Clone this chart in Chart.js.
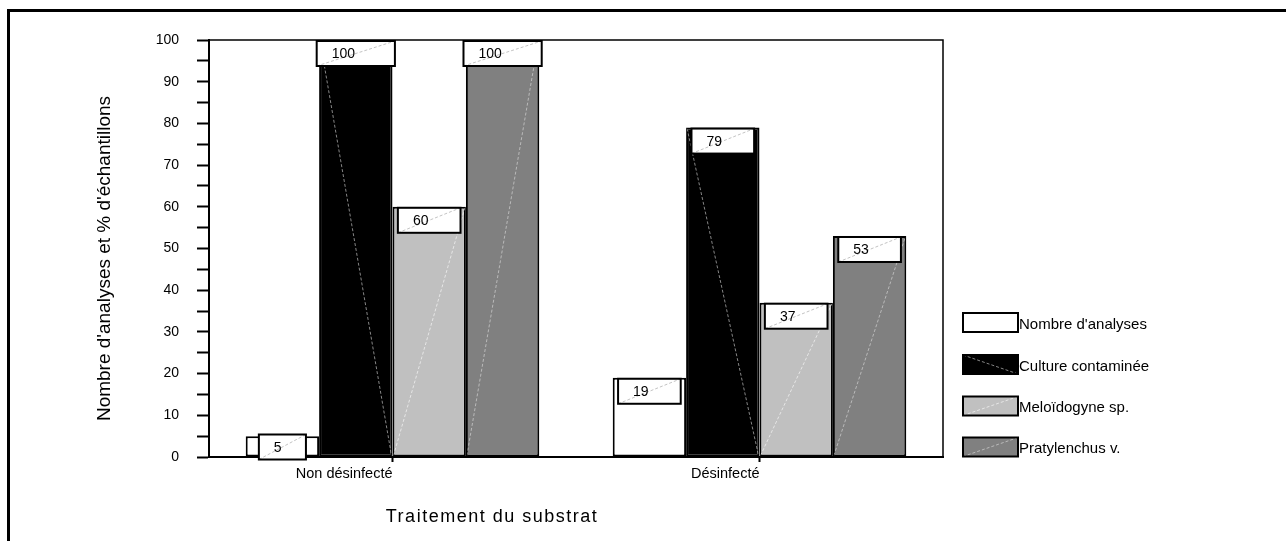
<!DOCTYPE html>
<html>
<head>
<meta charset="utf-8">
<script src="https://cdn.jsdelivr.net/npm/chart.js@4.4.1/dist/chart.umd.min.js"></script>
<style>
  html, body { margin: 0; padding: 0; background: #fff; overflow: hidden; }
  #wrap { position: relative; width: 1286px; height: 541px; }
  #frame { position: absolute; left: 7px; top: 9px; width: 1300px; height: 600px;
           border-top: 3px solid #000; border-left: 3px solid #000; pointer-events: none; }
  canvas { position: absolute; left: 0; top: 0; }
</style>
</head>
<body>
<div id="wrap">
  <canvas id="c" width="1286" height="541"></canvas>
  <div id="frame"></div>
</div>
<script>
// ---- data ----
const categories = ['Non désinfecté', 'Désinfecté'];
const seriesNames = ["Nombre d'analyses", 'Culture contaminée', 'Meloïdogyne sp.', 'Pratylenchus v.'];
const nombreAnalyses = [5, 19];
const cultureContaminee = [100, 79];
const meloidogyne = [60, 37];
const pratylenchus = [100, 53];
const yMin = 0, yMax = 100, yMajorStep = 10, yMinorStep = 5;
const yTitle = "Nombre d'analyses et % d'échantillons";
const xTitle = 'Traitement du substrat';

// ---- styles ----
const fills = ['#ffffff', '#000000', '#c0c0c0', '#808080'];
const diagStyles = [null, {dir: 'down', color: 'rgba(190,190,190,0.7)'},
                    {dir: 'up', color: 'rgba(255,255,255,0.6)'},
                    {dir: 'up', color: 'rgba(255,255,255,0.45)'}];
const FONT = '"Liberation Sans", Arial, sans-serif';

const seriesValues = [nombreAnalyses, cultureContaminee, meloidogyne, pratylenchus];

function drawDiag(ctx, l, t, r, b, style) {
  if (!style) return;
  ctx.save();
  ctx.beginPath();
  ctx.rect(l, t, r - l, b - t);
  ctx.clip();
  ctx.strokeStyle = style.color;
  ctx.lineWidth = 1;
  ctx.setLineDash([3, 2]);
  ctx.beginPath();
  if (style.dir === 'down') { ctx.moveTo(l, t); ctx.lineTo(r, b); }
  else { ctx.moveTo(l, b); ctx.lineTo(r, t); }
  ctx.stroke();
  ctx.restore();
}

const customPlugin = {
  id: 'custom',
  afterDatasetsDraw(chart) {
    const ctx = chart.ctx;
    // diagonals on bars
    chart.data.datasets.forEach((ds, di) => {
      const meta = chart.getDatasetMeta(di);
      meta.data.forEach((bar) => {
        const l = bar.x - bar.width / 2, r = bar.x + bar.width / 2;
        drawDiag(ctx, l + 1, bar.y + 1, r - 1, bar.base - 1, diagStyles[di]);
      });
    });
    // value label boxes
    ctx.save();
    ctx.font = '14px ' + FONT;
    chart.data.datasets.forEach((ds, di) => {
      const meta = chart.getDatasetMeta(di);
      meta.data.forEach((bar, i) => {
        const txt = String(ds.data[i]);
        const tw = ctx.measureText(txt).width;
        const w = 2 * tw + 31.5;
        const h = 25;
        const left = bar.x - w / 2;
        let top = bar.y + 1;
        if (top + h > bar.base + 3) top = bar.base + 3 - h;
        ctx.fillStyle = '#fff';
        ctx.fillRect(left, top, w, h);
        drawDiag(ctx, left, top, left + w, top + h, {dir: 'up', color: 'rgba(170,170,170,0.7)'});
        ctx.strokeStyle = '#000';
        ctx.lineWidth = 2;
        ctx.setLineDash([]);
        ctx.strokeRect(left, top, w, h);
        ctx.fillStyle = '#000';
        ctx.textAlign = 'left';
        ctx.textBaseline = 'middle';
        ctx.fillText(txt, left + 15, top + h / 2 + 1);
      });
    });
    ctx.restore();
  },
  afterDraw(chart) {
    const ctx = chart.ctx;
    const ca = chart.chartArea;
    ctx.save();
    // top and right frame of plot area
    ctx.strokeStyle = '#000';
    ctx.lineWidth = 1.5;
    ctx.beginPath();
    ctx.moveTo(ca.left, ca.top);
    ctx.lineTo(ca.right, ca.top);
    ctx.lineTo(ca.right, ca.bottom);
    ctx.stroke();
    // y title
    ctx.fillStyle = '#000';
    ctx.font = '19px ' + FONT;
    ctx.textAlign = 'center';
    ctx.textBaseline = 'middle';
    ctx.translate(105, (ca.top + ca.bottom) / 2 + 10);
    ctx.rotate(-Math.PI / 2);
    ctx.fillText(yTitle, 0, 0);
    ctx.restore();
    // x title
    ctx.save();
    ctx.fillStyle = '#000';
    ctx.font = '18px ' + FONT;
    try { ctx.letterSpacing = '1.5px'; } catch (e) {}
    ctx.textAlign = 'center';
    ctx.textBaseline = 'middle';
    ctx.fillText(xTitle, ca.left + 283, ca.bottom + 60);
    ctx.restore();
    // legend
    ctx.save();
    const lx = ca.right + 20;
    const rowY = [322.5, 364.5, 406, 447];
    chart.data.datasets.forEach((ds, di) => {
      const cy = rowY[di];
      const t = cy - 9.5, b = cy + 9.5, l = lx, r = lx + 55;
      ctx.fillStyle = fills[di];
      ctx.fillRect(l, t, r - l, b - t);
      drawDiag(ctx, l, t, r, b, di === 0 ? null : diagStyles[di]);
      ctx.setLineDash([]);
      ctx.strokeStyle = '#000';
      ctx.lineWidth = 2;
      ctx.strokeRect(l, t, r - l, b - t);
      ctx.fillStyle = '#000';
      ctx.font = '15px ' + FONT;
      ctx.textAlign = 'left';
      ctx.textBaseline = 'middle';
      ctx.fillText(ds.label, r + 1, cy + 2);
    });
    ctx.restore();
  }
};

new Chart(document.getElementById('c'), {
  type: 'bar',
  data: {
    labels: categories,
    datasets: seriesNames.map((name, i) => ({
      label: name,
      data: seriesValues[i],
      backgroundColor: fills[i],
      borderColor: '#000',
      borderWidth: 2,
      borderSkipped: false,
      categoryPercentage: 0.8,
      barPercentage: 1.0
    }))
  },
  options: {
    responsive: false,
    animation: false,
    devicePixelRatio: 1,
    layout: { padding: { top: 40, right: 343, left: 0, bottom: 0 } },
    plugins: { legend: { display: false }, tooltip: { enabled: false }, title: { display: false } },
    scales: {
      x: {
        afterFit(scale) { scale.height = 84; },
        grid: { display: true, drawOnChartArea: false, offset: false, tickLength: 5, tickColor: '#000', tickWidth: 2 },
        border: { display: true, color: '#000', width: 2 },
        ticks: { align: 'end', color: '#000', font: { family: FONT, size: 14.5 }, padding: 3, maxRotation: 0 }
      },
      y: {
        min: yMin, max: yMax,
        afterFit(scale) { scale.width = 209; },
        grid: { display: true, drawOnChartArea: false, tickLength: 12, tickColor: '#000', tickWidth: 2 },
        border: { display: true, color: '#000', width: 2 },
        ticks: {
          stepSize: yMinorStep,
          color: '#000',
          font: { family: FONT, size: 14 },
          padding: 18,
          callback: (v) => (v % yMajorStep === 0 ? String(v) : '')
        }
      }
    }
  },
  plugins: [customPlugin]
});
</script>
</body>
</html>
